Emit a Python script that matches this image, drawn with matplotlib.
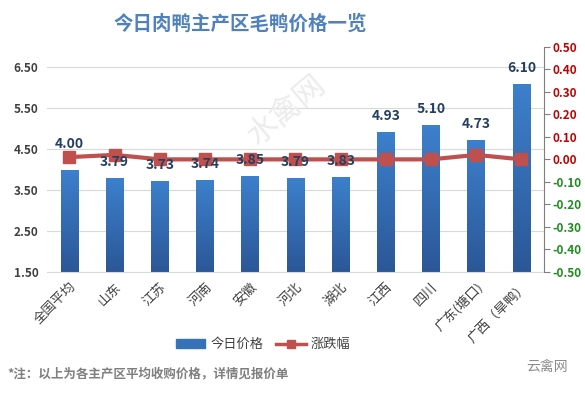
import numpy as np
import matplotlib.pyplot as plt
from matplotlib.patches import Rectangle
from matplotlib.lines import Line2D
from matplotlib.colors import LinearSegmentedColormap

plt.rcParams['font.family'] = ['Noto Sans CJK SC', 'DejaVu Sans']

regions = ['全国平均', '山东', '江苏', '河南', '安徽', '河北', '湖北', '江西', '四川', '广东(塘口)', '广西（旱鸭）']
price = [4.00, 3.79, 3.73, 3.74, 3.85, 3.79, 3.83, 4.93, 5.10, 4.73, 6.10]
change = [0.01, 0.02, 0.00, 0.00, 0.00, 0.00, 0.00, 0.00, 0.00, 0.02, 0.00]
left_ticks = [1.5, 2.5, 3.5, 4.5, 5.5, 6.5]
right_ticks = [-0.5, -0.4, -0.3, -0.2, -0.1, 0.0, 0.1, 0.2, 0.3, 0.4, 0.5]

fig = plt.figure(figsize=(5.85, 3.94), dpi=100)
ax = fig.add_axes([0.080, 0.310, 0.850, 0.571])
x = np.arange(len(regions))

# bars with vertical gradient
grad = np.linspace(0, 1, 256).reshape(-1, 1)
cmap = LinearSegmentedColormap.from_list('b', ['#2b5797', '#3d80cc'])
bars = ax.bar(x, price, width=0.39, color='#3572b8', zorder=2)
for b in bars:
    bx, w = b.get_x(), b.get_width()
    im = ax.imshow(grad, extent=[bx, bx + w, 1.5, b.get_height()], origin='lower',
                   cmap=cmap, aspect='auto', zorder=2.1)
    im.set_clip_path(b)

ax.set_xlim(-0.5, 10.5)
ax.set_ylim(1.5, 7.0)
ax.set_yticks(left_ticks)
ax.set_yticklabels([f'{t:.2f}' for t in left_ticks], fontsize=8.5, fontweight='bold', color='#404040')
ax.grid(axis='y', color='#d9d9d9', lw=0.8, zorder=0)
ax.set_xticks(x)
ax.set_xticklabels(regions, rotation=45, ha='right', rotation_mode='anchor', fontsize=9.5, color='#404040')
ax.tick_params(axis='both', length=0, pad=6)
for s in ax.spines.values():
    s.set_visible(False)
ax.spines['bottom'].set_visible(True)
ax.spines['bottom'].set_color('#d9d9d9')

ax2 = ax.twinx()
ax2.plot(x, change, color='#c0504d', lw=3, marker='s', markersize=8, zorder=4)
ax2.set_ylim(-0.5, 0.5)
ax2.set_yticks(right_ticks)
ax2.set_yticklabels([f'{t:.2f}' for t in right_ticks], fontsize=8.5, fontweight='bold')
for t, lab in zip(right_ticks, ax2.get_yticklabels()):
    lab.set_color('#c00000' if t >= 0 else '#1e8c1e')
ax2.tick_params(axis='y', length=4, color='#7f7f7f', pad=2)
for s in ['top', 'left', 'bottom']:
    ax2.spines[s].set_visible(False)
ax2.spines['right'].set_color('#7f7f7f')

# value labels drawn above the line
for xi, v in zip(x, price):
    off = 0.45 if xi == 0 else 0.22
    ax2.text(xi, v + off, f'{v:.2f}', transform=ax.transData, ha='center', va='bottom',
             fontsize=10, fontweight='bold', color='#243f60', zorder=6)

# watermark
fig.text(0.49, 0.72, '水禽网', fontsize=22, color='#ececec', rotation=40, ha='center', va='center', zorder=0)

fig.text(0.41, 0.94, '今日肉鸭主产区毛鸭价格一览', fontsize=14, fontweight='bold', color='#4f81bd', ha='center', va='center')

handles = [Rectangle((0, 0), 1, 1, color='#3572b8'),
           Line2D([], [], color='#c0504d', lw=2.5, marker='s', markersize=6)]
fig.legend(handles, ['今日价格', '涨跌幅'], loc='center', bbox_to_anchor=(0.45, 0.125), ncol=2,
           frameon=False, fontsize=9.5, handlelength=2.2, handletextpad=0.4, columnspacing=1.0,
           labelcolor='#404040')

fig.text(0.012, 0.05, '*注：以上为各主产区平均收购价格，详情见报价单', fontsize=9, fontweight='bold', color='#7f7f7f', va='center')
fig.text(0.97, 0.07, '云禽网', fontsize=10, color='#8c8c8c', ha='right', va='center')

fig.savefig('out.png', dpi=100)
